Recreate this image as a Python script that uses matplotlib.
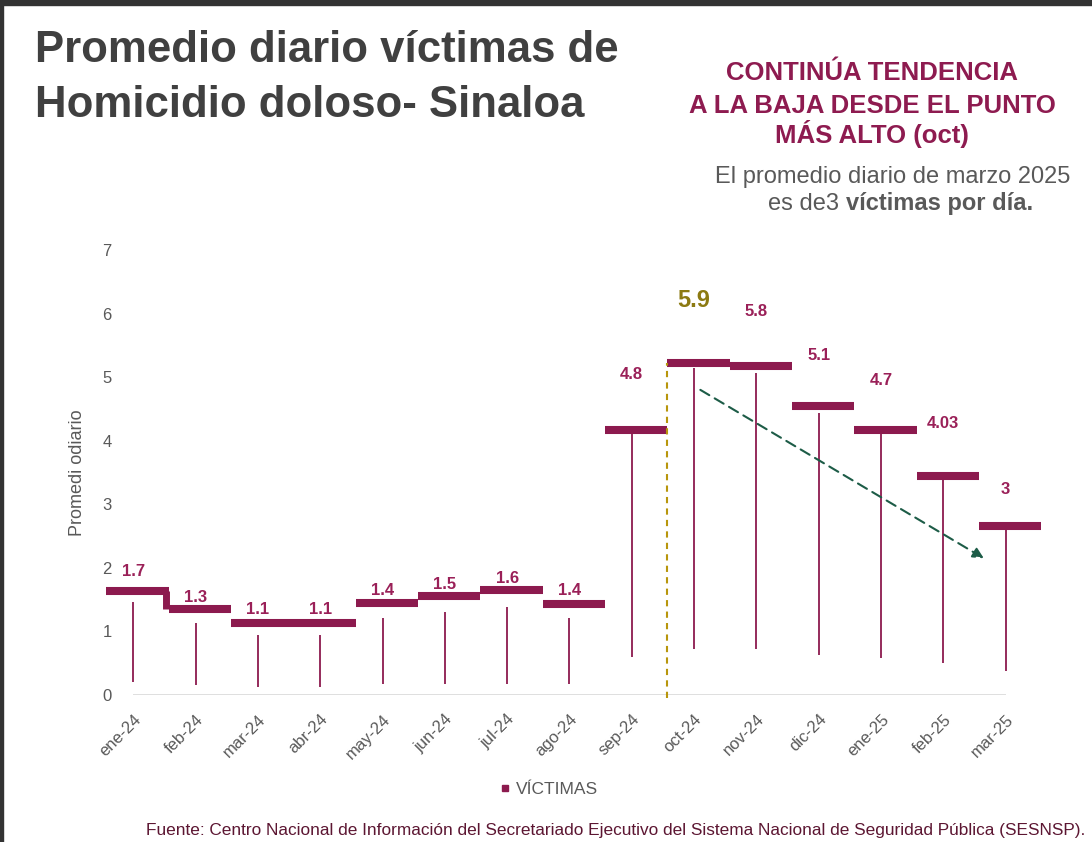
import matplotlib
matplotlib.use('Agg')
import matplotlib.pyplot as plt
from matplotlib.lines import Line2D
from matplotlib.patches import Rectangle
from matplotlib.transforms import ScaledTranslation

meses = ['ene-24', 'feb-24', 'mar-24', 'abr-24', 'may-24', 'jun-24', 'jul-24', 'ago-24',
         'sep-24', 'oct-24', 'nov-24', 'dic-24', 'ene-25', 'feb-25', 'mar-25']
# valores de las etiquetas
valores = [1.7, 1.3, 1.1, 1.1, 1.4, 1.5, 1.6, 1.4, 4.8, 5.9, 5.8, 5.1, 4.7, 4.03, 3]
# altura a la que aparece cada barra horizontal en la lamina original
nivel_barra = [1.64, 1.36, 1.13, 1.13, 1.44, 1.56, 1.65, 1.43,
               4.17, 5.23, 5.18, 4.55, 4.17, 3.44, 2.66]
# lineas verticales finas (arriba / abajo)
tallo_sup = [1.47, 1.13, 0.94, 0.94, 1.21, 1.31, 1.39, 1.21,
             4.12, 5.14, 5.06, 4.44, 4.11, 3.50, 2.61]
tallo_inf = [0.21, 0.16, 0.13, 0.13, 0.17, 0.18, 0.18, 0.17,
             0.59, 0.73, 0.72, 0.63, 0.58, 0.50, 0.37]

GUINDA = '#8C1A4E'
GUINDA_TXT = '#9A2058'
GRIS = '#595959'
OLIVO = '#8C7A12'

W, H = 1092, 842


def fx(x):
    return x / W


def fy(y):
    return 1 - y / H


plt.rcParams['font.family'] = ['Liberation Sans', 'DejaVu Sans']

fig = plt.figure(figsize=(W / 100, H / 100), dpi=100)
ax = fig.add_axes([fx(114.6), fy(695), fx(1049.3) - fx(114.6), fy(250) - fy(695)])
ax.set_xlim(-0.3, 14.7)
ax.set_ylim(0, 7)
for s in ax.spines.values():
    s.set_visible(False)

x = list(range(len(meses)))
izq, der = -0.43, 0.57

# linea base
ax.hlines(0, x[0], x[-1], color='#d9d9d9', lw=1.2, zorder=1)

# barras horizontales
ax.hlines(nivel_barra, [i + izq for i in x], [i + der for i in x], color=GUINDA,
          lw=5.8, capstyle='butt', clip_on=False, zorder=3)
# escalon ene -> feb
ax.vlines(x[0] + der - 0.05, nivel_barra[1], nivel_barra[0], color=GUINDA, lw=5, zorder=3)

# lineas verticales finas
ax.vlines(x, tallo_inf, tallo_sup, color=GUINDA, lw=1.3, zorder=2)

# etiquetas
pico = valores.index(max(valores))
for i, v in zip(x, valores):
    if i == pico:
        ax.annotate(f'{v:g}', (i, v), xytext=(0, 14), textcoords='offset points',
                    ha='center', va='center', fontsize=17, fontweight='bold', color=OLIVO)
    else:
        ax.annotate(f'{v:g}', (i, v), xytext=(0, 11), textcoords='offset points',
                    ha='center', va='center', fontsize=12, fontweight='bold', color=GUINDA_TXT)

# linea punteada del punto mas alto
ax.vlines(pico - 1 + der, -0.05, nivel_barra[pico], color='#B8960C', lw=1.5,
          linestyles=(0, (3, 2.5)), clip_on=False, zorder=4)

# flecha de tendencia
ax.annotate('', xy=(13.65, 2.15), xytext=(9.1, 4.8),
            arrowprops=dict(arrowstyle='-|>', color='#1D5C47', lw=1.5, ls=(0, (5, 3)),
                            mutation_scale=16, shrinkA=0, shrinkB=0), zorder=5)

ax.set_xticks(x)
ax.set_xticklabels(meses, rotation=45, ha='right', rotation_mode='anchor',
                   fontsize=12, color=GRIS)
desplaza = ScaledTranslation(-7 / 100, 0, fig.dpi_scale_trans)
for lbl in ax.get_xticklabels():
    lbl.set_transform(lbl.get_transform() + desplaza)
ax.set_yticks(range(8))
ax.tick_params(axis='y', length=0, pad=2, labelsize=12, labelcolor=GRIS)
ax.tick_params(axis='x', length=0, pad=12)
ax.set_ylabel('Promedi odiario', fontsize=13, color=GRIS, labelpad=12)

# leyenda
h = Line2D([], [], marker='s', color=GUINDA, linestyle='none', markersize=5)
fig.legend([h], ['VÍCTIMAS'], loc='center', bbox_to_anchor=(fx(548), fy(789)),
           frameon=False, fontsize=12.5, labelcolor=GRIS, handletextpad=0.2,
           handlelength=0.8)

# titulos
fig.text(fx(35), fy(62), 'Promedio diario víctimas de', fontsize=31.5,
         fontweight='bold', color='#404040', va='baseline')
fig.text(fx(35), fy(117), 'Homicidio doloso- Sinaloa', fontsize=31.5,
         fontweight='bold', color='#404040', va='baseline')

for txt, yb in [('CONTINÚA TENDENCIA', 80), ('A LA BAJA DESDE EL PUNTO', 113),
                ('MÁS ALTO (oct)', 143)]:
    fig.text(fx(872), fy(yb), txt, fontsize=18.5, fontweight='bold', color='#8E1B50',
             ha='center', va='baseline')

fig.text(fx(1070), fy(183), 'El promedio diario de marzo 2025', fontsize=17,
         color=GRIS, ha='right', va='baseline')
t1 = fig.text(fx(768), fy(210), 'es de3 ', fontsize=17, color=GRIS,
              ha='left', va='baseline')
ax.annotate('víctimas por día.', xy=(1, 0), xycoords=t1, ha='left', va='bottom',
            fontsize=17, color=GRIS, fontweight='bold', annotation_clip=False)

fig.text(fx(1085), fy(835), 'Fuente: Centro Nacional de Información del Secretariado '
         'Ejecutivo del Sistema Nacional de Seguridad Pública (SESNSP).',
         fontsize=12.4, color='#5C1632', ha='right', va='baseline')

# marco
fig.patches.append(Rectangle((0, fy(5)), 1, fy(0) - fy(5), transform=fig.transFigure,
                             color='#333333', zorder=10))
fig.patches.append(Rectangle((0, 0), fx(3), 1, transform=fig.transFigure,
                             color='#333333', zorder=10))

fig.savefig('out.png', dpi=100)
